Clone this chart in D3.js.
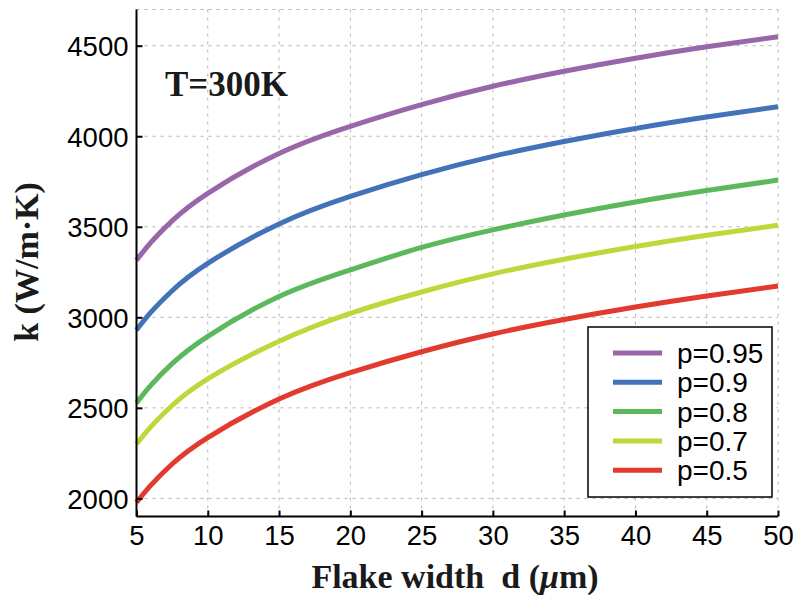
<!DOCTYPE html>
<html>
<head>
<meta charset="utf-8">
<script src="https://cdn.jsdelivr.net/npm/d3@7"></script>
<style>
  html, body { margin: 0; padding: 0; background: #fff; }
  svg { display: block; }
</style>
</head>
<body>
<svg id="chart" width="797" height="597"></svg>
<script>
// Flake width d (µm) sample points
const widths = [5, 6, 7.5, 10, 15, 20, 25, 30, 35, 40, 45, 50];

// Thermal conductivity k (W/m·K) for each specularity parameter p
const k_p095 = [3315, 3413, 3533, 3685, 3905, 4055, 4175, 4276, 4359, 4431, 4494, 4550];
const k_p09  = [2930, 3027, 3147, 3298, 3516, 3668, 3788, 3889, 3971, 4043, 4106, 4163];
const k_p08  = [2527, 2624, 2744, 2895, 3115, 3262, 3386, 3483, 3565, 3637, 3700, 3758];
const k_p07  = [2300, 2395, 2513, 2660, 2868, 3022, 3140, 3240, 3321, 3391, 3453, 3508];
const k_p05  = [1978, 2072, 2190, 2336, 2549, 2695, 2810, 2908, 2988, 3057, 3118, 3173];

const seriesLabels = ["p=0.95", "p=0.9", "p=0.8", "p=0.7", "p=0.5"];
const seriesColors = ["#9966aa", "#4372b8", "#5cb85c", "#bcd93c", "#e23a2e"];
const seriesValues = [k_p095, k_p09, k_p08, k_p07, k_p05];

const xTicks = [5, 10, 15, 20, 25, 30, 35, 40, 45, 50];
const yTicks = [2000, 2500, 3000, 3500, 4000, 4500];

const svg = d3.select("#chart");
const plot = { left: 136.5, right: 778, top: 9.5, bottom: 516.5 };

const x = d3.scaleLinear().domain([5, 50]).range([plot.left, plot.right]);
const y = d3.scaleLinear().domain([1900, 4700]).range([plot.bottom, plot.top]);

// dashed grid
const grid = svg.append("g").attr("stroke", "#b4b4b4").attr("stroke-width", 1)
  .attr("stroke-dasharray", "3,5").attr("fill", "none");
xTicks.slice(1).forEach(t => {
  grid.append("line").attr("x1", x(t)).attr("x2", x(t))
    .attr("y1", plot.top).attr("y2", plot.bottom);
});
yTicks.concat([4700]).forEach(t => {
  grid.append("line").attr("x1", plot.left).attr("x2", plot.right)
    .attr("y1", y(t)).attr("y2", y(t));
});

// curves
const line = d3.line()
  .x((d, i) => x(widths[i]))
  .y(d => y(d))
  .curve(d3.curveNatural);

seriesValues.forEach((vals, i) => {
  svg.append("path")
    .datum(vals)
    .attr("d", line)
    .attr("fill", "none")
    .attr("stroke", seriesColors[i])
    .attr("stroke-width", 5)
    .attr("stroke-linecap", "butt");
});

// axes
const tickFont = "'Liberation Sans', Arial, sans-serif";
const xAxis = d3.axisBottom(x).tickValues(xTicks).tickSize(-6).tickPadding(10).tickFormat(d3.format("d"));
const yAxis = d3.axisLeft(y).tickValues(yTicks).tickSize(-6).tickPadding(8).tickFormat(d3.format("d"));

const gx = svg.append("g").attr("transform", `translate(0,${plot.bottom})`).call(xAxis);
const gy = svg.append("g").attr("transform", `translate(${plot.left},0)`).call(yAxis);

[gx, gy].forEach(g => {
  g.select(".domain").attr("stroke", "#000").attr("stroke-width", 2);
  g.selectAll(".tick line").attr("stroke", "#000").attr("stroke-width", 2);
  g.selectAll(".tick text").attr("fill", "#000")
    .style("font-family", tickFont).style("font-size", "27.5px");
});
gx.select(".domain").attr("d", `M${plot.left},0H${plot.right}`);
gy.select(".domain").attr("d", `M0,${plot.bottom}V${plot.top}`);
gy.selectAll(".tick text").attr("dy", "0.36em");
gx.selectAll(".tick text").attr("dy", "0.68em");

// axis titles
const serif = "'Liberation Serif', 'Times New Roman', serif";
const xt = svg.append("text")
  .attr("x", 455).attr("y", 588)
  .attr("text-anchor", "middle")
  .style("font-family", serif).style("font-size", "34px").style("font-weight", "bold")
  .attr("fill", "#1a1a1a");
xt.append("tspan").text("Flake width\u00a0 d (");
xt.append("tspan").text("\u03bc").style("font-style", "italic");
xt.append("tspan").text("m)");

svg.append("text")
  .attr("transform", "translate(38,262) rotate(-90)")
  .attr("text-anchor", "middle")
  .style("font-family", serif).style("font-size", "34px").style("font-weight", "bold")
  .attr("fill", "#1a1a1a")
  .text("k (W/m\u00b7K)");

// temperature annotation
svg.append("text")
  .attr("x", 165).attr("y", 96)
  .style("font-family", serif).style("font-size", "35px").style("font-weight", "bold")
  .attr("fill", "#1a1a1a")
  .text("T=300K");

// legend
const legend = svg.append("g");
legend.append("rect")
  .attr("x", 588).attr("y", 327).attr("width", 184).attr("height", 170)
  .attr("fill", "#fff").attr("stroke", "#000").attr("stroke-width", 1.5);
seriesLabels.forEach((lab, i) => {
  const yy = 353 + i * 29.3;
  legend.append("line")
    .attr("x1", 613).attr("x2", 662).attr("y1", yy).attr("y2", yy)
    .attr("stroke", seriesColors[i]).attr("stroke-width", 5);
  legend.append("text")
    .attr("x", 677).attr("y", yy).attr("dy", "0.36em")
    .style("font-family", tickFont).style("font-size", "28px")
    .attr("fill", "#000")
    .text(lab);
});
</script>
</body>
</html>
